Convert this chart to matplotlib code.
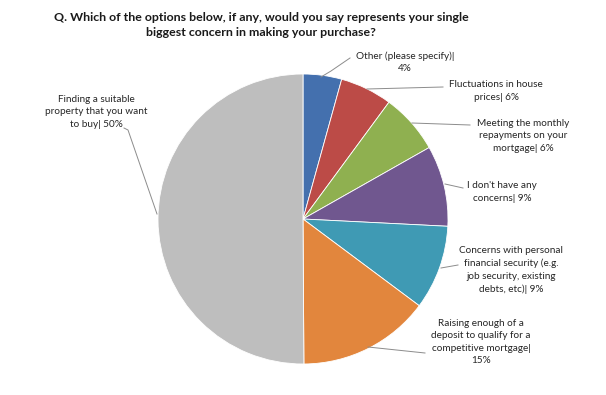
import matplotlib
matplotlib.use("Agg")
import matplotlib.pyplot as plt

# slices, clockwise from 12 o'clock
labels = [
    "Other (please specify)|\n4%",
    "Fluctuations in house\nprices| 6%",
    "Meeting the monthly\nrepayments on your\nmortgage| 6%",
    "I don't have any\nconcerns| 9%",
    "Concerns with personal\nfinancial security (e.g.\njob security, existing\ndebts, etc)| 9%",
    "Raising enough of a\ndeposit to qualify for a\ncompetitive mortgage|\n15%",
    "Finding a suitable\nproperty that you want\nto buy| 50%",
]
values = [4.3, 5.8, 6.7, 9.0, 9.4, 14.7, 50.1]
colors = ["#4470AE", "#BC4B47", "#8FB050", "#70578F", "#3F9AB4", "#E2863D", "#BEBEBE"]

title = ("Q. Which of the options below, if any, would you say represents your single\n"
         "biggest concern in making your purchase?")

# label text centre (px, from top) and leader line (pie end -> text end)
text_pos = [(405, 62), (496, 91), (523, 136), (502, 192), (511, 270), (481, 342), (96, 112)]
leaders = [
    [(321, 77), (331, 71), (350, 58)],
    [(367, 89), (443, 87)],
    [(412, 123), (470, 125)],
    [(445, 184), (463, 188)],
    [(441, 268), (458, 265)],
    [(368, 347), (425, 353)],
    [(157, 214), (128, 130), (124, 128)],
]

W, H = 606, 395
fig = plt.figure(figsize=(W / 100, H / 100), dpi=100)
ax = fig.add_axes([0, 0, 1, 1])

ax.pie(values, colors=colors, startangle=90, counterclock=False,
       center=(303, H - 219), radius=145, frame=True,
       wedgeprops=dict(edgecolor="white", linewidth=0.6))
ax.set_xlim(0, W)
ax.set_ylim(0, H)
ax.set_aspect("equal")
ax.axis("off")

for lab, (tx, ty), pts in zip(labels, text_pos, leaders):
    ax.text(tx, H - ty, lab, ha="center", va="center", fontsize=7.2,
            family="Lato", color="#262626", linespacing=1.45)
    ax.plot([p[0] for p in pts], [H - p[1] for p in pts], color="#8C8C8C", lw=0.7)

ax.text(261, H - 25, title, ha="center", va="center", fontsize=8.9,
        fontweight="bold", family="Lato", color="#1a1a1a", linespacing=1.45)

fig.savefig("out.png", dpi=100)
